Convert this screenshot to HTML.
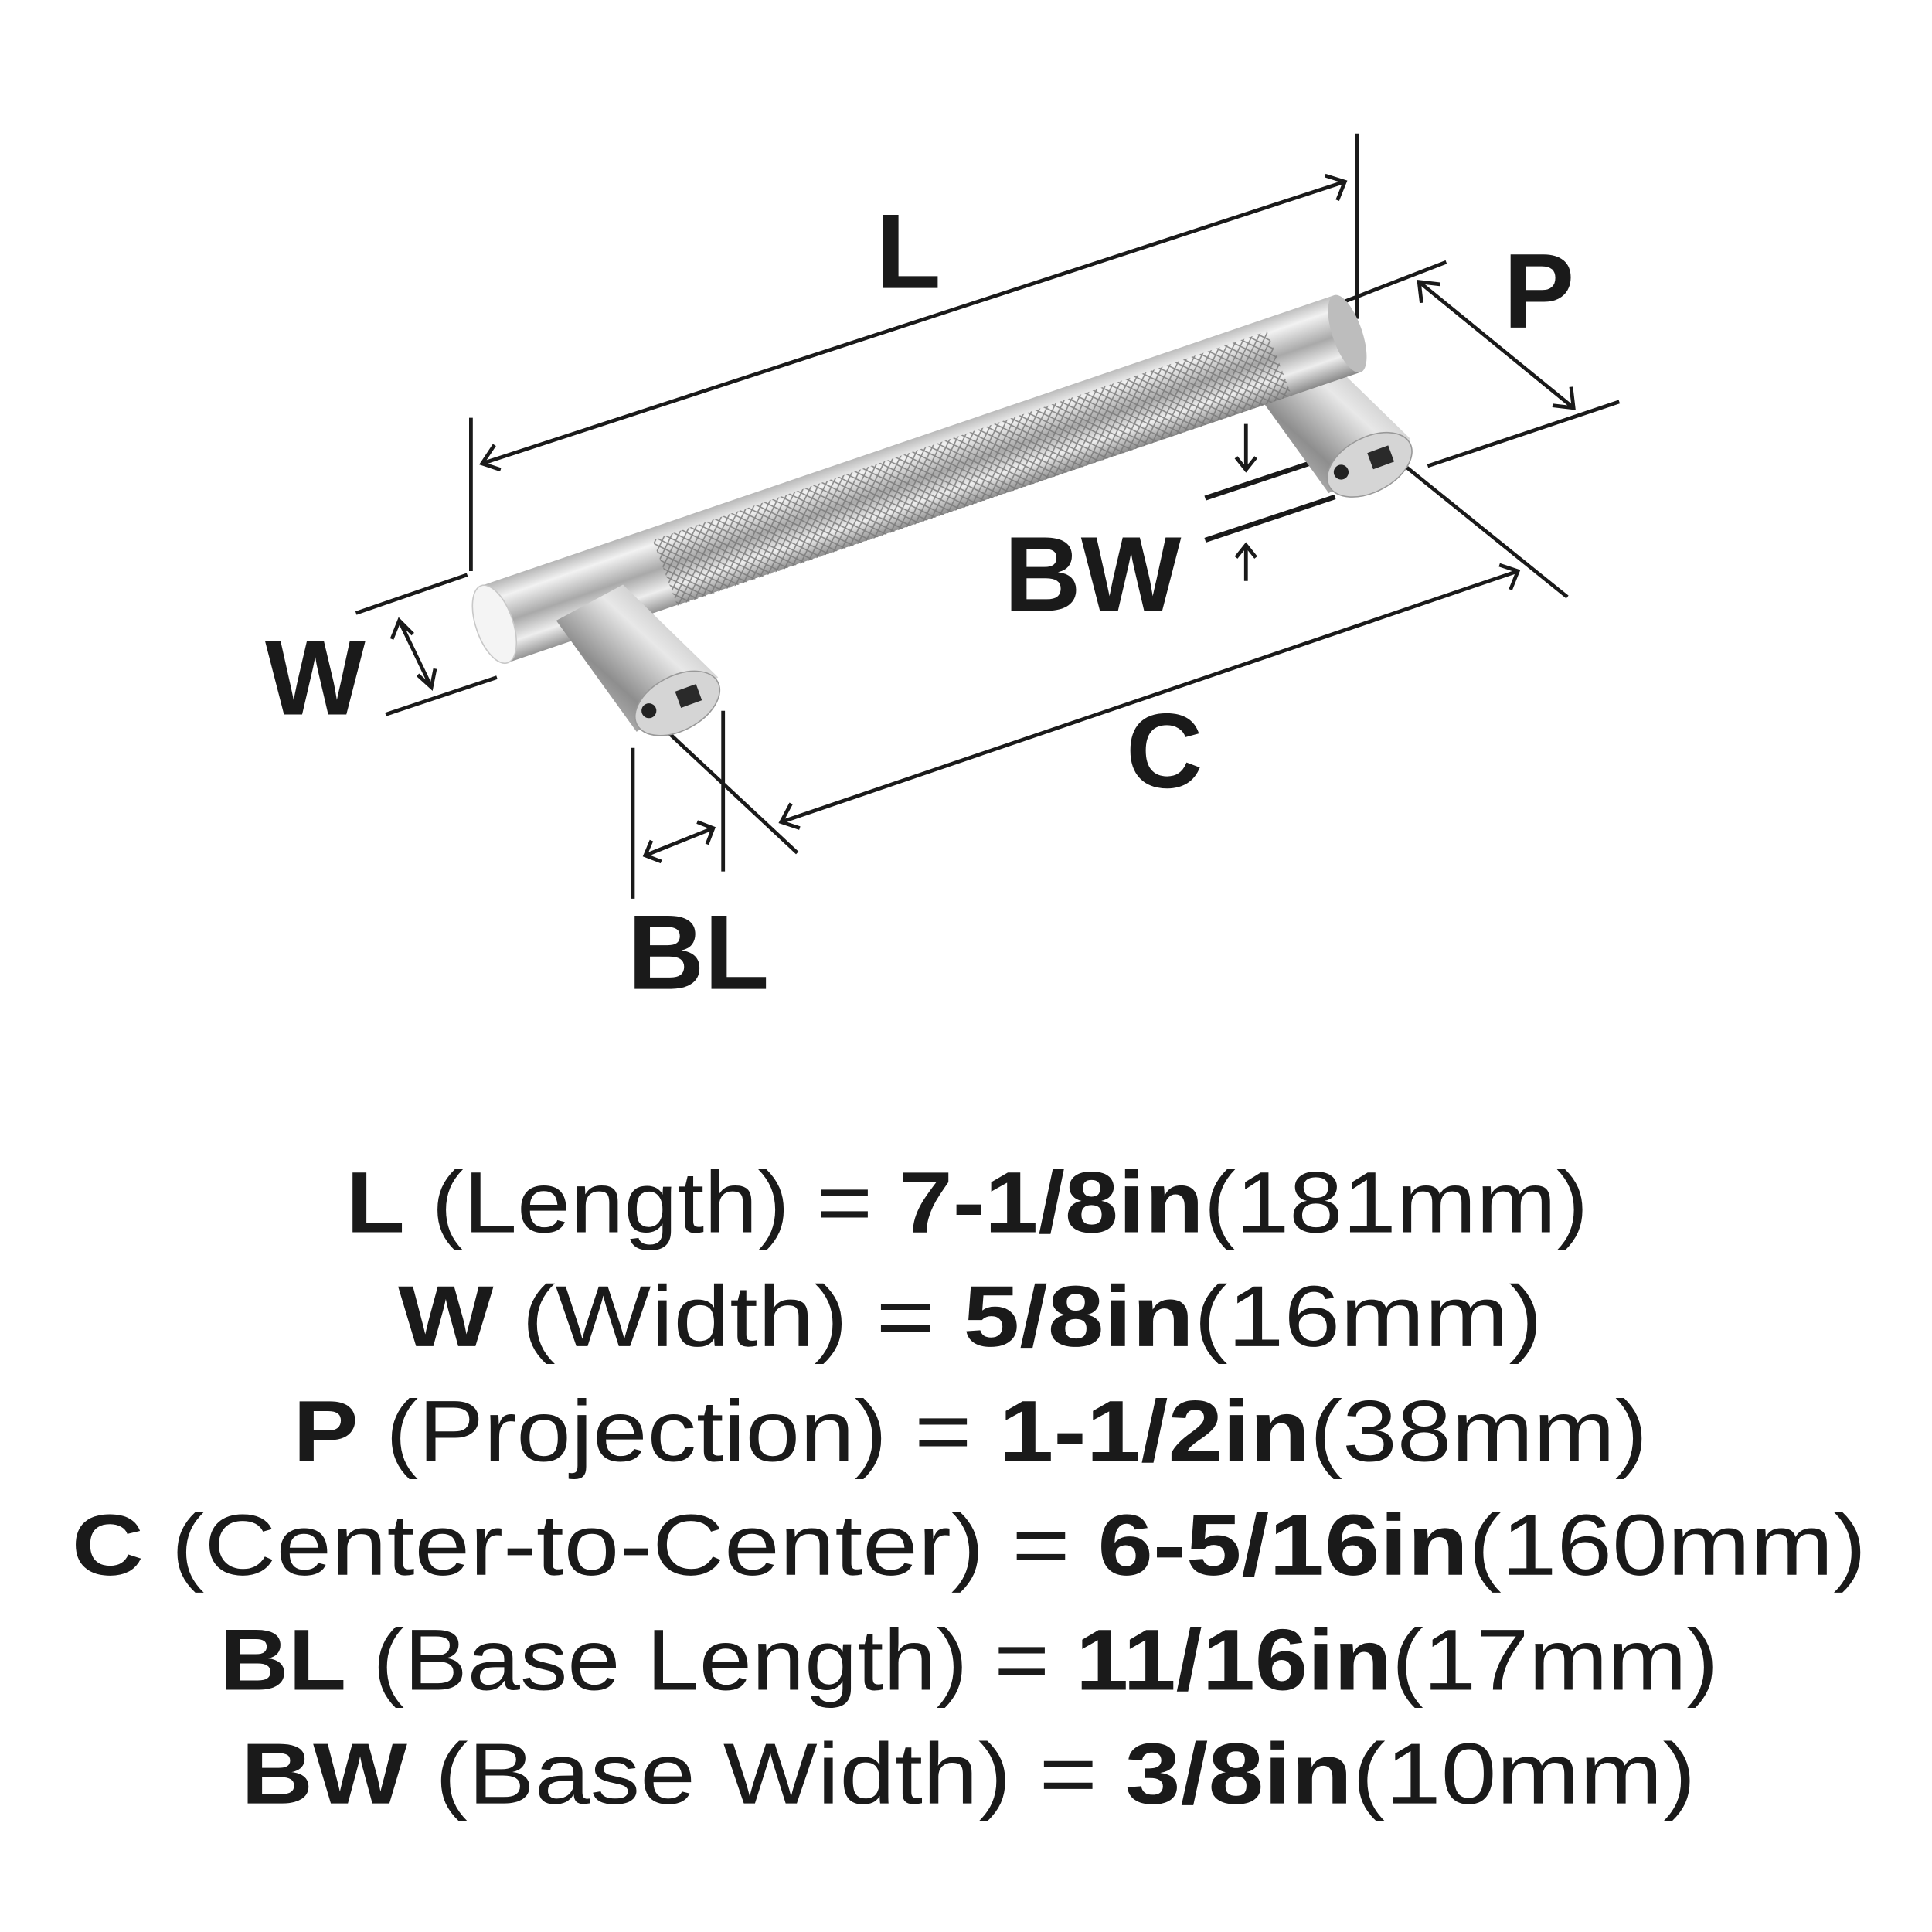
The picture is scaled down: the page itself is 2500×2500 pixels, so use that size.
<!DOCTYPE html>
<html><head><style>html,body{margin:0;padding:0;background:#fff}svg{display:block}</style></head>
<body>
<svg width="2500" height="2500" viewBox="0 0 1563 1563" xmlns="http://www.w3.org/2000/svg">
<defs>
<linearGradient id="bar" gradientUnits="userSpaceOnUse" x1="389" y1="474" x2="411" y2="538">
<stop offset="0" stop-color="#b5b5b5"/><stop offset="0.2" stop-color="#f2f2f2"/><stop offset="0.5" stop-color="#a9a9a9"/><stop offset="0.75" stop-color="#eeeeee"/><stop offset="1" stop-color="#8a8a8a"/>
</linearGradient>
<linearGradient id="post" gradientUnits="objectBoundingBox" x1="0" y1="1" x2="1" y2="0">
<stop offset="0" stop-color="#e6e6e6"/><stop offset="0.35" stop-color="#8e8e8e"/><stop offset="0.6" stop-color="#e8e8e8"/><stop offset="1" stop-color="#9a9a9a"/>
</linearGradient>
<pattern id="knurl" width="7" height="7" patternUnits="userSpaceOnUse" patternTransform="rotate(-19)">
<path d="M0 0L7 7M7 0L0 7" stroke="#777" stroke-width="1"/>
</pattern>
</defs>
<g stroke="#1a1a1a" stroke-width="3" fill="none">
<line x1="381" y1="338" x2="381" y2="462"/>
<line x1="1098" y1="108" x2="1098" y2="258"/>
<line x1="390" y1="375" x2="1088" y2="147"/>
<polyline points="400,360 390,375 405,380"/>
<polyline points="1072,142 1088,147 1082,162"/>
<line x1="1085" y1="245" x2="1170" y2="212"/>
<line x1="1155" y1="377" x2="1310" y2="325"/>
<line x1="1148" y1="228" x2="1273" y2="330"/>
<polyline points="1150,245 1148,228 1165,230"/>
<polyline points="1256,328 1273,330 1271,313"/>
<line x1="288" y1="496" x2="378" y2="465"/>
<line x1="312" y1="578" x2="402" y2="548"/>
<line x1="323" y1="502" x2="349" y2="556"/>
<polyline points="317,517 323,502 334,513"/>
<polyline points="338,546 349,556 352,541"/>
<line x1="975" y1="403" x2="1080" y2="368" stroke-width="4"/>
<line x1="975" y1="437" x2="1080" y2="402" stroke-width="4"/>
<line x1="1008" y1="343" x2="1008" y2="380"/>
<polyline points="1000,370 1008,380 1016,370"/>
<line x1="1008" y1="470" x2="1008" y2="441"/>
<polyline points="1000,451 1008,441 1016,451"/>
<line x1="525" y1="578" x2="645" y2="690"/>
<line x1="1128" y1="370" x2="1268" y2="483"/>
<line x1="632" y1="665" x2="1228" y2="462"/>
<polyline points="640,650 632,665 647,670"/>
<polyline points="1213,457 1228,462 1222,477"/>
<line x1="512" y1="605" x2="512" y2="727"/>
<line x1="585" y1="575" x2="585" y2="705"/>
<line x1="522" y1="692" x2="577" y2="670"/>
<polyline points="527,680 522,692 535,697"/>
<polyline points="564,665 577,670 572,683"/>
</g>
<g>
<!-- right post -->
<g transform="translate(560,-193)">
<polygon points="450,502 504,473 581,548 515,592" fill="url(#post)"/>
<ellipse cx="548" cy="569" rx="37" ry="22" transform="rotate(-28 548 569)" fill="#d5d5d5" stroke="#999"/>
<rect x="548" y="556" width="18" height="14" transform="rotate(-20 557 563)" fill="#2a2a2a"/>
<circle cx="525" cy="575" r="6" fill="#222"/>
</g>
<polygon points="389,474 1079,239 1101,301 411,536" fill="url(#bar)"/>
<polygon points="528,437 1025,268 1045,320 548,490" fill="url(#knurl)" opacity="0.85"/>
<ellipse cx="400" cy="505" rx="15" ry="33" transform="rotate(-19 400 505)" fill="#f4f4f4" stroke="#c8c8c8"/>
<ellipse cx="1090" cy="270" rx="12" ry="33" transform="rotate(-19 1090 270)" fill="#bdbdbd"/>
<!-- left post -->
<polygon points="450,502 504,473 581,548 515,592" fill="url(#post)"/>
<ellipse cx="548" cy="569" rx="37" ry="22" transform="rotate(-28 548 569)" fill="#d5d5d5" stroke="#999"/>
<rect x="548" y="556" width="18" height="14" transform="rotate(-20 557 563)" fill="#2a2a2a"/>
<circle cx="525" cy="575" r="6" fill="#222"/>
</g>
<g font-family="Liberation Sans, sans-serif" font-weight="bold" fill="#1a1a1a" font-size="86" text-anchor="middle">
<text x="735" y="233">L</text>
<text x="1245" y="265">P</text>
<text x="255" y="578">W</text>
<text x="884" y="494">BW</text>
<text x="942" y="637">C</text>
<text x="565" y="800">BL</text>
</g>
<g font-family="Liberation Sans, sans-serif" fill="#1a1a1a" font-size="70" lengthAdjust="spacingAndGlyphs">
<text x="280" y="997" textLength="1005" lengthAdjust="spacingAndGlyphs"><tspan font-weight="bold">L</tspan> (Length) = <tspan font-weight="bold">7-1/8in</tspan>(181mm)</text>
<text x="322" y="1089" textLength="926" lengthAdjust="spacingAndGlyphs"><tspan font-weight="bold">W</tspan> (Width) = <tspan font-weight="bold">5/8in</tspan>(16mm)</text>
<text x="237" y="1182" textLength="1096" lengthAdjust="spacingAndGlyphs"><tspan font-weight="bold">P</tspan> (Projection) = <tspan font-weight="bold">1-1/2in</tspan>(38mm)</text>
<text x="58" y="1274" textLength="1452" lengthAdjust="spacingAndGlyphs"><tspan font-weight="bold">C</tspan> (Center-to-Center) = <tspan font-weight="bold">6-5/16in</tspan>(160mm)</text>
<text x="178" y="1367" textLength="1212" lengthAdjust="spacingAndGlyphs"><tspan font-weight="bold">BL</tspan> (Base Length) = <tspan font-weight="bold">11/16in</tspan>(17mm)</text>
<text x="195" y="1459" textLength="1177" lengthAdjust="spacingAndGlyphs"><tspan font-weight="bold">BW</tspan> (Base Width) = <tspan font-weight="bold">3/8in</tspan>(10mm)</text>
</g>
</svg>
</body></html>
